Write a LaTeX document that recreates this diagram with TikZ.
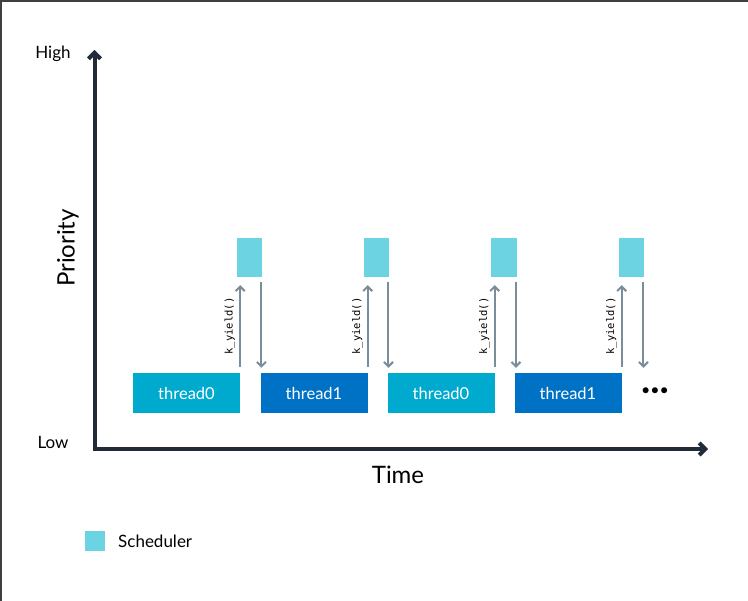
\documentclass[tikz,border=0pt]{standalone}
\usepackage{fontspec}
\setmainfont{Lato}
\newfontfamily\monofont{DejaVu Sans Mono}
\usetikzlibrary{arrows.meta,calc}
\definecolor{axiscol}{RGB}{33,43,58}
\definecolor{thAcol}{RGB}{0,170,206}
\definecolor{thBcol}{RGB}{0,114,198}
\definecolor{schedcol}{RGB}{108,211,226}
\definecolor{arrcol}{RGB}{122,141,155}
\definecolor{framecol}{RGB}{64,64,64}
\tikzset{
  threadbox/.style={minimum width=107pt,minimum height=40pt,inner sep=0pt,text=white,font=\fontsize{16.5}{19}\selectfont},
  tA/.style={threadbox,fill=thAcol},
  tB/.style={threadbox,fill=thBcol},
  sched/.style={fill=schedcol,minimum width=25.5pt,minimum height=39pt,inner sep=0pt},
  arr/.style={draw=arrcol,line width=2pt,-{Straight Barb[length=4.5pt,width=9pt,line width=2pt]}},
  axisline/.style={draw=axiscol,line width=4pt,{Straight Barb[length=6pt,width=12pt,line width=4pt]}-{Straight Barb[length=6pt,width=12pt,line width=4pt]}},
  yieldlbl/.style={font=\monofont\fontsize{10.5}{12}\selectfont,rotate=90,anchor=south,inner sep=4pt},
  lbl/.style={font=\fontsize{17}{20}\selectfont,text=black},
  biglbl/.style={font=\fontsize{24}{28}\selectfont,text=black}
}
\begin{document}
\begin{tikzpicture}[x=1pt,y=-1pt]
\useasboundingbox (0,0) rectangle (748,601);
\fill[white] (0,0) rectangle (748,601);
% frame
\draw[framecol,line width=2pt] (0,1) -- (748,1);
\draw[framecol,line width=1.5pt] (0.75,0) -- (0.75,601);

% axes
\coordinate (ytip) at (94.5,50);
\coordinate (origin) at (94.5,449);
\coordinate (xtip) at (708,449);
\draw[axisline,line join=miter] (ytip) -- (origin) -- (xtip);

\node[lbl] (high) at (53,54) {High};
\node[lbl] (low) at (53,442) {Low};
\node[biglbl,rotate=90] (prio) at (68,248) {Priority};
\node[biglbl] (time) at (398,475) {Time};

% threads
\node[tA] (t0) at (186.5,393) {thread0};
\node[tB] (t1) at (314,393) {thread1};
\node[tA] (t2) at (441,393) {thread0};
\node[tB] (t3) at (568,393) {thread1};
\node[font=\fontsize{16}{19}\selectfont] (dots) at (655,392) {•••};

% scheduler boxes
\node[sched] (s0) at (249.5,257.5) {};
\node[sched] (s1) at (376.5,257.5) {};
\node[sched] (s2) at (504,257.5) {};
\node[sched] (s3) at (631.5,257.5) {};

% up arrows with k_yield()
\draw[arr] ($(t0.north east)+(0,-6)$) -- node[yieldlbl] {k\_yield()} ($(s0.south -| t0.north east)+(0,8)$);
\draw[arr] ($(t1.north east)+(0,-6)$) -- node[yieldlbl] {k\_yield()} ($(s1.south -| t1.north east)+(0,8)$);
\draw[arr] ($(t2.north east)+(0,-6)$) -- node[yieldlbl] {k\_yield()} ($(s2.south -| t2.north east)+(0,8)$);
\draw[arr] ($(t3.north east)+(0,-6)$) -- node[yieldlbl] {k\_yield()} ($(s3.south -| t3.north east)+(0,8)$);

% down arrows
\draw[arr] ($(s0.south east)+(-1,5)$) -- ($(s0.south east |- t1.north)+(-1,-5)$);
\draw[arr] ($(s1.south east)+(-1,5)$) -- ($(s1.south east |- t2.north)+(-1,-5)$);
\draw[arr] ($(s2.south east)+(-1,5)$) -- ($(s2.south east |- t3.north)+(-1,-5)$);
\coordinate (endc) at ($(s3.south east |- t3.north)+(-1,-5)$);
\draw[arr] ($(s3.south east)+(-1,5)$) -- (endc);

% legend
\node[sched,minimum width=20pt,minimum height=20pt] (leg) at (95,541) {};
\node[lbl,anchor=west,inner sep=0pt] (legtxt) at (118,541) {Scheduler};
\end{tikzpicture}
\end{document}
